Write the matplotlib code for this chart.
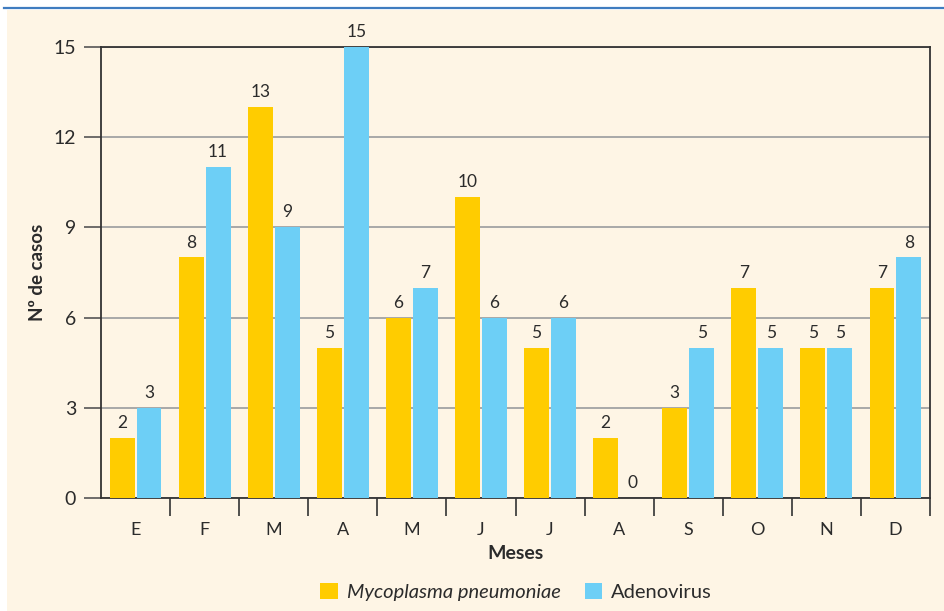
import matplotlib
matplotlib.use("Agg")
import matplotlib.pyplot as plt
import numpy as np
from matplotlib.patches import Rectangle, Patch
from matplotlib.lines import Line2D

months = ["E", "F", "M", "A", "M", "J", "J", "A", "S", "O", "N", "D"]
mycoplasma = [2, 8, 13, 5, 6, 10, 5, 2, 3, 7, 5, 7]
adenovirus = [3, 11, 9, 15, 7, 6, 6, 0, 5, 5, 5, 8]
yticks = [0, 3, 6, 9, 12, 15]
series_names = ["Mycoplasma pneumoniae", "Adenovirus"]

YELLOW = "#FFCC00"
BLUE = "#6DCFF6"
BEIGE = "#FEF5E5"
DARK = "#2b2b2b"
GRID = "#a8a8a8"

plt.rcParams['font.family'] = ['Lato', 'DejaVu Sans']

fig = plt.figure(figsize=(9.44, 6.11), dpi=100)
fig.patch.set_facecolor("white")
# beige panel and blue rule
fig.add_artist(Rectangle((7/944, 0), 1 - 7/944, 1 - 10/611, transform=fig.transFigure,
                         facecolor=BEIGE, edgecolor="none", zorder=-10))
fig.add_artist(Line2D([4/944, 1], [1 - 8/611, 1 - 8/611], transform=fig.transFigure,
                      color="#3f7cc0", lw=1.6))

ax = fig.add_axes([101/944, 1 - 498/611, 829/944, 451/611])
ax.set_facecolor(BEIGE)

x = np.arange(len(months))
w = 0.36
off = 0.195
b1 = ax.bar(x - off, mycoplasma, w, color=YELLOW, zorder=3, label=series_names[0])
b2 = ax.bar(x + off, adenovirus, w, color=BLUE, zorder=3, label=series_names[1])

for bars, vals in ((b1, mycoplasma), (b2, adenovirus)):
    for r, v in zip(bars, vals):
        ax.annotate(str(v), (r.get_x() + r.get_width() / 2, v), xytext=(0, 5),
                    textcoords="offset points", ha="center", va="bottom",
                    fontsize=12.5, color=DARK)

ax.set_xlim(-0.5, 11.5)
ax.set_ylim(0, 15)
ax.set_yticks(yticks)
ax.set_yticklabels([str(t) for t in yticks], fontsize=14, color=DARK)
ax.tick_params(axis="y", length=12, width=1.2, color="#555555", pad=6, direction="out")
ax.set_xticks(x)
ax.set_xticklabels(months, fontsize=13, color=DARK)
ax.tick_params(axis="x", which="major", length=0, pad=17)
ax.set_xticks(np.arange(0.5, 12, 1), minor=True)
ax.tick_params(axis="x", which="minor", length=13, width=1.2, color="#333333", direction="out")

ax.yaxis.grid(True, color=GRID, lw=1.4, zorder=0)
ax.set_axisbelow(True)
for s in ax.spines.values():
    s.set_color("#333333")
    s.set_linewidth(1.3)

ax.set_ylabel("Nº de casos", fontsize=13.5, fontweight="bold", color=DARK, labelpad=5)
ax.set_xlabel("Meses", fontsize=14, fontweight="bold", color=DARK, labelpad=5)

handles = [Patch(facecolor=YELLOW), Patch(facecolor=BLUE)]
leg = fig.legend(handles, series_names, loc="center", bbox_to_anchor=(516/944, 1 - 592/611),
                 ncol=2, frameon=False, fontsize=14.5, handlelength=0.85, handleheight=0.85,
                 columnspacing=1.2, handletextpad=0.45)
for t in leg.get_texts():
    t.set_color(DARK)
leg.get_texts()[0].set_style("italic")

fig.savefig("out.png", dpi=100, facecolor=fig.get_facecolor())
